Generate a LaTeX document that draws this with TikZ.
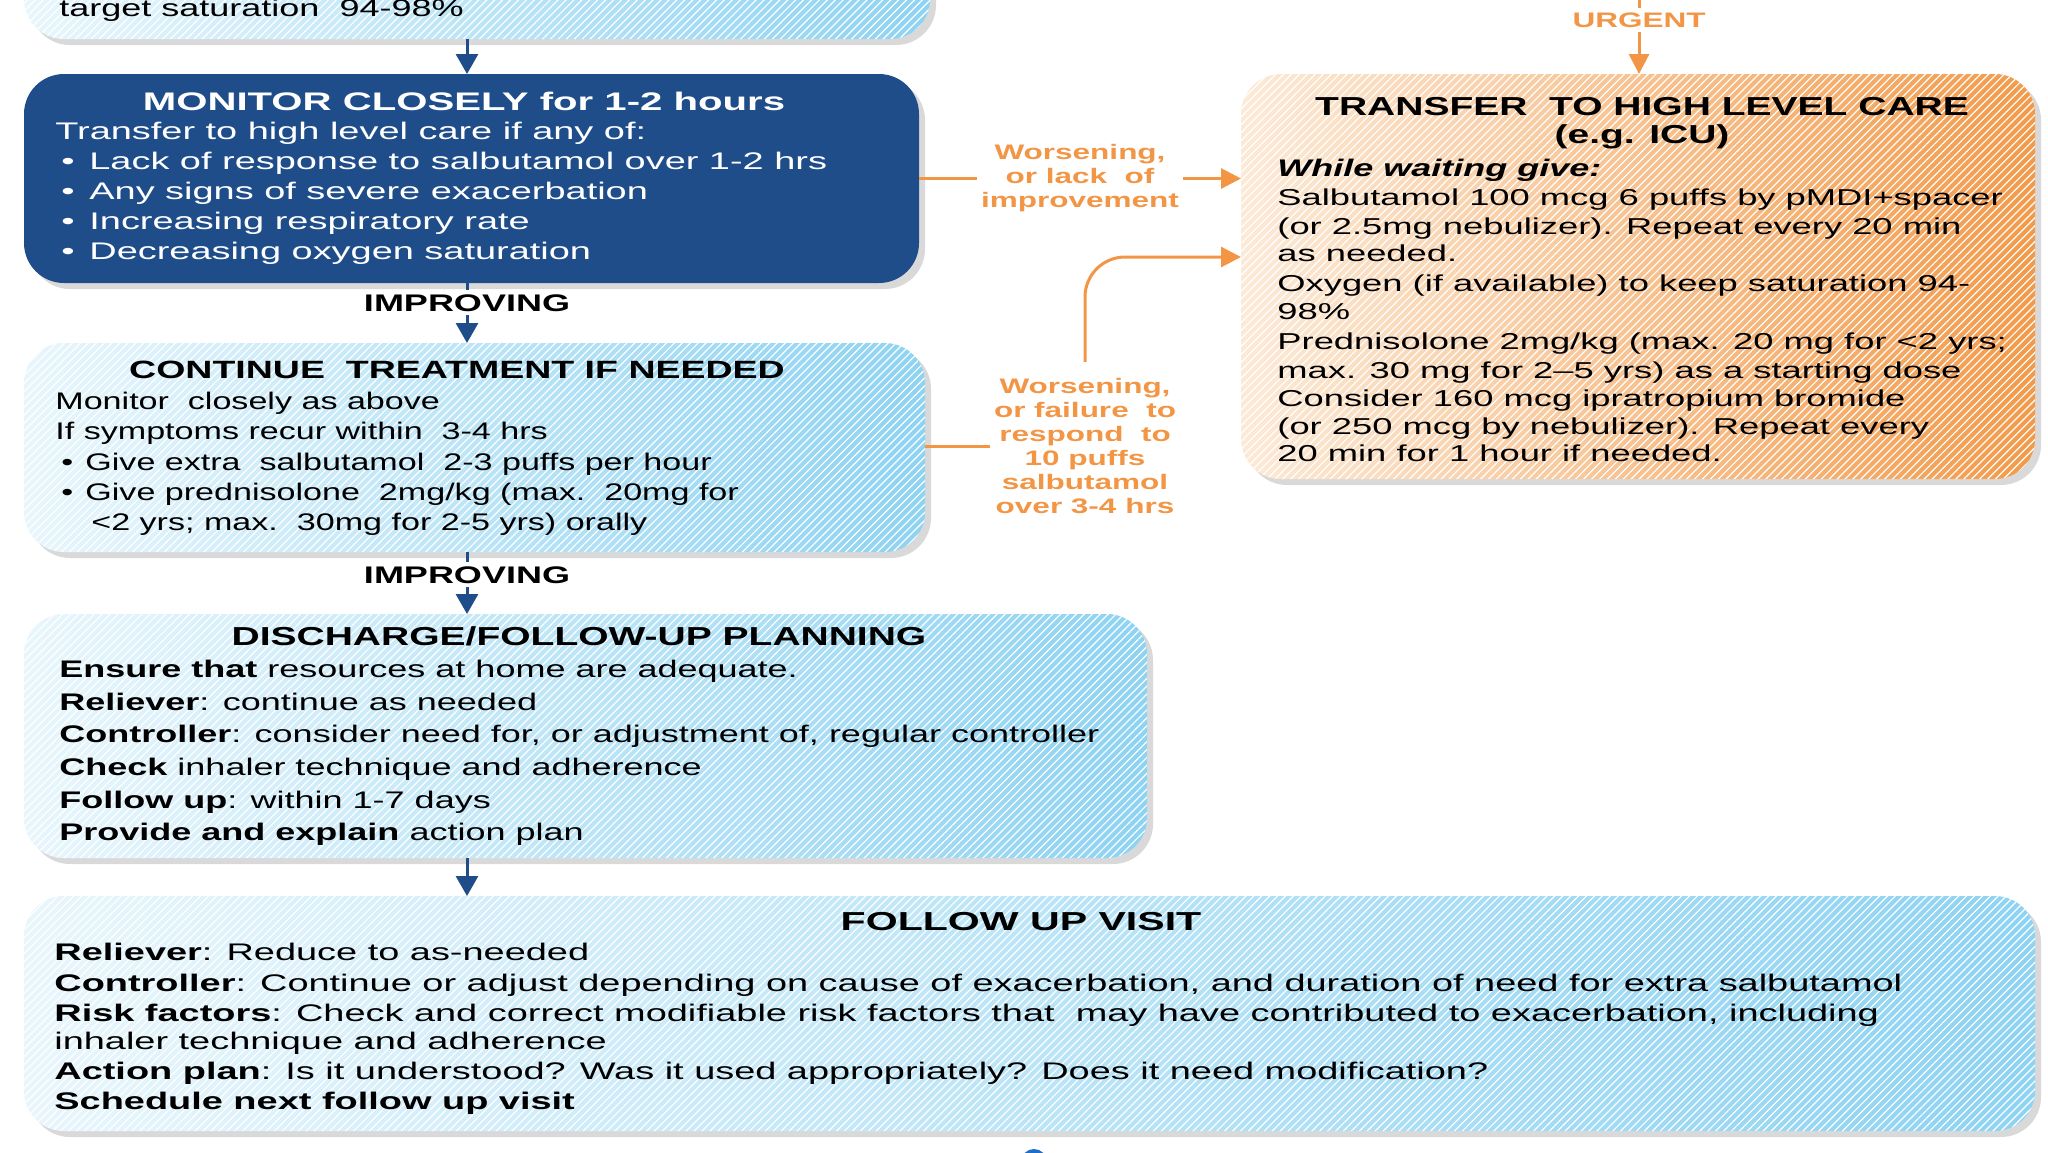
\documentclass[tikz,border=0pt]{standalone}
\usepackage{fontspec}
\setmainfont[FakeStretch=1.5]{Liberation Sans}
\newfontfamily\widefont[FakeStretch=1.58,Ligatures=TeX]{Liberation Sans}
\newfontfamily\slimfont[FakeStretch=1.42,Ligatures=TeX]{Liberation Sans}
\usetikzlibrary{arrows.meta,patterns.meta,shadows,positioning}

\definecolor{navy}{RGB}{31,77,138}
\definecolor{skyL}{RGB}{232,246,252}
\definecolor{skyR}{RGB}{142,211,242}
\definecolor{peachL}{RGB}{252,234,215}
\definecolor{peachR}{RGB}{242,154,74}
\definecolor{warn}{RGB}{242,150,70}
\definecolor{dot}{RGB}{30,110,200}

\tikzset{
  box/.style={rounded corners=20pt, outer sep=0pt, inner sep=0pt, anchor=north west,
    drop shadow={shadow xshift=3pt, shadow yshift=-3pt, opacity=0.3}},
  hatch/.style={postaction={fill opacity=0.3, pattern={Lines[angle=45,distance=2.8pt,line width=0.6pt]}, pattern color=white}},
  sky/.style={box, left color=skyL, right color=skyR, hatch},
  peach/.style={box, left color=peachL, right color=peachR, hatch},
  headtext/.style={font=\fontsize{13}{15}\selectfont\bfseries, text=black, inner sep=0pt},
  body/.style={font=\fontsize{12}{15}\selectfont, inner sep=0pt, anchor=base west},
  widebody/.style={body, font=\widefont\fontsize{12}{15}\selectfont},
  slimbody/.style={body, font=\slimfont\fontsize{12}{15}\selectfont},
  flow/.style={navy, line width=1.5pt, -{Triangle[length=10pt,width=11pt]}},
  alert/.style={warn, line width=1.5pt, -{Triangle[length=10pt,width=10pt]}},
  alertlbl/.style={warn, font=\fontsize{10.5}{12}\selectfont\bfseries, align=center, inner sep=2pt}
}

\begin{document}
\begin{tikzpicture}[x=0.5pt,y=-0.5pt]
\clip (0,0) rectangle (2048,1152);
\coordinate (spine) at (467,0);

% boxes
\node[sky, minimum width=453pt, minimum height=69.5pt] (top) at (24,-100) {};
\node[box, fill=navy, minimum width=447.5pt, minimum height=104.5pt] (mon) at (24,74) {};
\node[sky, minimum width=450.5pt, minimum height=104.5pt] (cont) at (24,343) {};
\node[sky, minimum width=561.5pt, minimum height=122pt] (dis) at (24,614) {};
\node[sky, minimum width=1005.5pt, minimum height=117.5pt] (fol) at (24,896) {};
\node[peach, minimum width=397pt, minimum height=202.5pt] (tr) at (1241,74) {};

% top box
\node[body] (topL) at (59,16) {target saturation\ \ 94-98\%};

% monitor closely
\node[headtext, text=white, font=\widefont\fontsize{12.7}{15}\selectfont\bfseries] (monT) at (464,101) {MONITOR CLOSELY for 1-2 hours};
\node[widebody, white] (monL0) at (55,139) {Transfer to high level care if any of:};
\foreach \t [count=\i] in {{Lack of response to salbutamol over 1-2 hrs},
    {Any signs of severe exacerbation},{Increasing respiratory rate},
    {Decreasing oxygen saturation}} {
  \node[widebody, white] (monB\i) at (61,{139+30*\i}) {\textbullet};
  \node[widebody, white] (monL\i) at (89,{139+30*\i}) {\t};
}

% continue treatment
\node[headtext, font=\fontsize{12.5}{15}\selectfont\bfseries] (contT) at (457,370) {CONTINUE\ \ TREATMENT IF NEEDED};
\node[slimbody] (contL1) at (55,409) {Monitor\ \ closely as above};
\node[slimbody] (contL2) at (55,439) {If symptoms recur within\ \ 3-4 hrs};
\node[slimbody] (contB3) at (61,470) {\textbullet};
\node[slimbody] (contL3) at (85,470) {Give extra\ \ salbutamol\ \ 2-3 puffs per hour};
\node[slimbody] (contB4) at (61,500) {\textbullet};
\node[slimbody] (contL4) at (85,500) {Give prednisolone\ \ 2mg/kg (max.\ \ 20mg for};
\node[slimbody] (contL5) at (91,530) {<2 yrs; max.\ \ 30mg for 2-5 yrs) orally};

% discharge
\node[headtext] (disT) at (579,636) {DISCHARGE/FOLLOW-UP PLANNING};
\foreach \t [count=\i] in {{\textbf{Ensure that} resources at home are adequate.},
    {\textbf{Reliever}: continue as needed},
    {\textbf{Controller}: consider need for, or adjustment of, regular controller},
    {\textbf{Check} inhaler technique and adherence},
    {\textbf{Follow up}: within 1-7 days},
    {\textbf{Provide and explain} action plan}} {
  \node[body] (disL\i) at (59,{645+32.6*\i}) {\t};
}

% follow up visit
\node[headtext, font=\widefont\fontsize{13}{15}\selectfont\bfseries] (folT) at (1021,922) {FOLLOW UP VISIT};
\foreach \y/\t [count=\i] in {960/{\textbf{Reliever}: Reduce to as-needed},
    991/{\textbf{Controller}: Continue or adjust depending on cause of exacerbation, and duration of need for extra salbutamol},
    1021/{\textbf{Risk factors}: Check and correct modifiable risk factors that\ \ may have contributed to exacerbation, including},
    1049/{inhaler technique and adherence},
    1079/{\textbf{Action plan}: Is it understood? Was it used appropriately? Does it need modification?},
    1109/{\textbf{Schedule next follow up visit}}} {
  \node[widebody] (folL\i) at (54,\y) {\t};
}

% transfer to high level care
\node[headtext] (trT) at (1642,107) {TRANSFER\ \ TO HIGH LEVEL CARE};
\node[headtext] (trT2) at (1642,137) {(e.g. ICU)};
\node[body] (trW) at (1277,176) {\textbf{\textit{While waiting give:}}};
\foreach \y/\t [count=\i] in {205/{Salbutamol 100 mcg 6 puffs by pMDI+spacer},
    234/{(or 2.5mg nebulizer). Repeat every 20 min},
    261/{as needed.},
    291/{Oxygen (if available) to keep saturation 94-},
    319/{98\%},
    349/{Prednisolone 2mg/kg (max. 20 mg for <2 yrs;},
    378/{max. 30 mg for 2–5 yrs) as a starting dose},
    406/{Consider 160 mcg ipratropium bromide},
    434/{(or 250 mcg by nebulizer). Repeat every},
    461/{20 min for 1 hour if needed.}} {
  \node[widebody, font=\widefont\fontsize{11.5}{14}\selectfont] (trL\i) at (1277,\y) {\t};
}

% connectors
\draw[flow] (spine |- top.south) -- (spine |- mon.north);
\draw[flow] (spine |- mon.south) -- node[headtext, font=\fontsize{12}{15}\selectfont\bfseries, fill=white, inner sep=2pt, pos=0.33] (imp1) {IMPROVING} (spine |- cont.north);
\draw[flow] (spine |- cont.south) -- node[headtext, font=\fontsize{12}{15}\selectfont\bfseries, fill=white, inner sep=2pt, pos=0.37] (imp2) {IMPROVING} (spine |- dis.north);
\draw[flow] (spine |- dis.south) -- (spine |- fol.north);

\node[alertlbl] (urg) at (1639,20) {URGENT};
\coordinate (urgTop) at (1639,-20);
\draw[warn, line width=1.5pt] (urgTop) -- (urg);
\draw[alert] (urg) -- (urg |- tr.north);

\draw[alert] (mon.east) -- node[alertlbl, fill=white] (lbl1) {Worsening,\\or lack\ \ of\\improvement} (mon.east -| tr.west);

\node[alertlbl] (lbl2) at (1085,446) {Worsening,\\or failure\ \ to\\respond\ \ to\\10 puffs\\salbutamol\\over 3-4 hrs};
\coordinate (trIn) at (1241,257);
\draw[warn, line width=1.5pt] (cont.east |- lbl2) -- (lbl2);
\draw[alert, rounded corners=20pt] ([yshift=6pt]lbl2.north) |- (trIn);

\fill[dot] (1034,1162) circle (13);
\end{tikzpicture}
\end{document}
